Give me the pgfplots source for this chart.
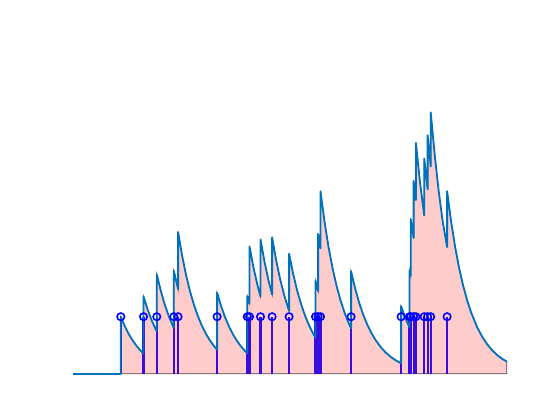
\documentclass[border=0pt]{standalone}
\usepackage{pgfplots}
\usepackage{pgfplotstable}
\pgfplotsset{compat=1.18}
\definecolor{mblue}{rgb}{0,0.447,0.741}
\definecolor{stemc}{rgb}{0.22,0.05,0.88}
\definecolor{pinkf}{rgb}{1,0.8,0.8}
\definecolor{edgeg}{rgb}{0.3,0.3,0.3}
\pgfplotstableread{
x y
121 0
121 1
125 0.834
129 0.695
133 0.580
137 0.483
141 0.403
143.7 0.356
143.7 1.356
147.7 1.131
151.7 0.943
155.7 0.786
157 0.741
157 1.741
161 1.452
165 1.210
169 1.009
173 0.841
174 0.804
174 1.804
178.3 1.484
178.3 2.484
182.3 2.071
186.3 1.727
190.3 1.439
194.3 1.200
198.3 1.001
202.3 0.834
206.3 0.696
210.3 0.580
214.3 0.484
217.3 0.422
217.3 1.422
221.3 1.186
225.3 0.988
229.3 0.824
233.3 0.687
237.3 0.573
241.3 0.478
245.3 0.398
247.5 0.360
247.5 1.360
249.7 1.231
249.7 2.231
253.7 1.860
257.7 1.551
260.7 1.353
260.7 2.353
264.7 1.962
268.7 1.636
272.3 1.389
272.3 2.389
276.3 1.992
280.3 1.661
284.3 1.384
288.3 1.154
289.3 1.103
289.3 2.103
293.3 1.753
297.3 1.462
301.3 1.219
305.3 1.016
309.3 0.847
313.3 0.706
315.7 0.633
315.7 1.633
318.3 1.451
318.3 2.451
320.7 2.198
320.7 3.198
324.7 2.666
328.7 2.223
332.7 1.853
336.7 1.545
340.7 1.288
344.7 1.074
348.7 0.896
351.3 0.796
351.3 1.796
355.3 1.498
359.3 1.248
363.3 1.041
367.3 0.868
371.3 0.724
375.3 0.603
381.3 0.459
386.3 0.366
391.3 0.291
396.3 0.232
401.3 0.185
401.3 1.185
405.3 0.988
409.7 0.809
409.7 1.809
410.9 1.713
410.9 2.713
413.8 2.378
413.8 3.378
416.1 3.043
416.1 4.043
420.1 3.371
424.4 2.772
424.4 3.772
427.8 3.232
427.8 4.180
430.9 3.631
430.9 4.580
435 3.819
439 3.184
443 2.654
447.3 2.220
447.3 3.200
451.3 2.668
455.3 2.224
459.3 1.854
463.3 1.546
467.3 1.289
471.3 1.075
477.3 0.818
482.3 0.652
487.3 0.519
492.3 0.414
497.3 0.330
502.3 0.263
507 0.212
}\curve
\pgfplotstableread{
x y
121 1
143.7 1
157 1
174 1
178.3 1
217.3 1
247.5 1
249.7 1
260.7 1
272.3 1
289.3 1
315.7 1
318.3 1
320.7 1
351.3 1
401.3 1
409.7 1
410.9 1
413.8 1
416.1 1
424.4 1
427.8 1
430.9 1
447.3 1
}\events
\begin{document}
\begin{tikzpicture}
\begin{axis}[
  hide axis, scale only axis, clip=false,
  width=434bp, height=342.5bp,
  xmin=73, xmax=507, ymin=0, ymax=6,
]
\coordinate (ll) at (rel axis cs:0,0);
\addplot[fill=pinkf, draw=edgeg, line width=0.8bp] table {\curve} \closedcycle;
\addplot[ycomb, draw=stemc, line width=2.2bp, mark=o, mark size=3.7bp,
  mark options={draw=blue, line width=1.6bp}] table {\events};
\addplot[color=mblue, line width=1.8bp, line join=round] coordinates {(73,0) (121,0)};
\addplot[color=mblue, line width=1.8bp, line join=round] table {\curve};
\end{axis}
\pgfresetboundingbox
\path (ll) ++(-72.8bp,-46.2bp) rectangle ++(560bp,420bp);
\end{tikzpicture}
\end{document}
